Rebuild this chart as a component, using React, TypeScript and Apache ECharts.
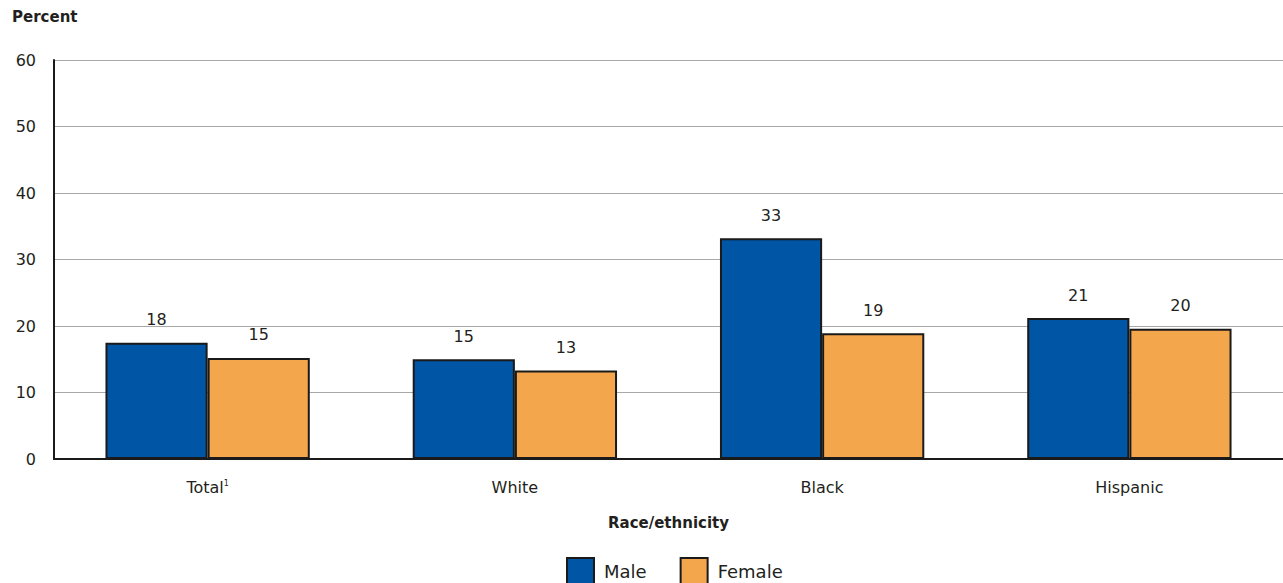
import React, { useEffect, useRef } from "react";
import * as echarts from "echarts";

const categories = ["Total", "White", "Black", "Hispanic"];
const maleValues = [17.5, 15.0, 33.2, 21.2];
const femaleValues = [15.2, 13.3, 18.9, 19.6];
const seriesNames = ["Male", "Female"];
const yTicks = { min: 0, max: 60, interval: 10 };

const FONT = "DejaVu Sans";
const TEXT = "#231f20";

export default function App() {
  const ref = useRef<HTMLDivElement>(null);
  useEffect(() => {
    const chart = echarts.init(ref.current!, null, { renderer: "svg" });
    const barLabel = {
      show: true,
      position: "top",
      distance: 15,
      color: TEXT,
      fontFamily: FONT,
      fontSize: 16,
      formatter: (p: any) => String(Math.round(p.value)),
    };
    chart.setOption({
      animation: false,
      backgroundColor: "#ffffff",
      textStyle: { fontFamily: FONT },
      grid: { left: 54, right: 0, top: 60, bottom: 124, containLabel: false },
      graphic: [
        {
          type: "text",
          left: 12,
          top: 9,
          style: { text: "Percent", font: `bold 15px ${FONT}`, fill: TEXT },
        },
      ],
      legend: {
        data: seriesNames,
        top: 557,
        left: 566,
        padding: 0,
        icon: "rect",
        itemWidth: 27,
        itemHeight: 27,
        itemGap: 33,
        textStyle: { fontFamily: FONT, fontSize: 18, color: TEXT, padding: [8, 0, 0, 5] },
      },
      xAxis: {
        type: "category",
        data: categories,
        axisLine: { lineStyle: { color: "#1a1a1a", width: 2 } },
        axisTick: { show: false },
        axisLabel: {
          margin: 20,
          color: TEXT,
          fontFamily: FONT,
          fontSize: 16,
          formatter: (v: string) => (v === "Total" ? "Total{sup|1}" : v),
          rich: {
            sup: { fontSize: 8, color: TEXT, fontFamily: FONT, padding: [0, 0, 8, 0] },
          },
        },
        name: "Race/ethnicity",
        nameLocation: "middle",
        nameGap: 56,
        nameTextStyle: { fontFamily: FONT, fontSize: 15, fontWeight: "bold", color: TEXT },
      },
      yAxis: {
        type: "value",
        min: yTicks.min,
        max: yTicks.max,
        interval: yTicks.interval,
        axisLine: { show: true, lineStyle: { color: "#1a1a1a", width: 2 } },
        axisTick: { show: false },
        axisLabel: { margin: 18, color: TEXT, fontFamily: FONT, fontSize: 16 },
        splitLine: { lineStyle: { color: "#a8a8a8", width: 1 } },
      },
      series: [
        {
          name: seriesNames[0],
          type: "bar",
          data: maleValues,
          barGap: "0%",
          barCategoryGap: "33.5%",
          itemStyle: { color: "#0055a4", borderColor: "#1a1a1a", borderWidth: 2 },
          label: barLabel,
        },
        {
          name: seriesNames[1],
          type: "bar",
          data: femaleValues,
          barGap: "0%",
          barCategoryGap: "33.5%",
          itemStyle: { color: "#f4a64c", borderColor: "#1a1a1a", borderWidth: 2 },
          label: barLabel,
        },
      ],
    });
    return () => chart.dispose();
  }, []);
  return (
    <div
      ref={ref}
      style={{ position: "fixed", left: 0, top: 0, width: 1283, height: 583, background: "#fff" }}
    />
  );
}
